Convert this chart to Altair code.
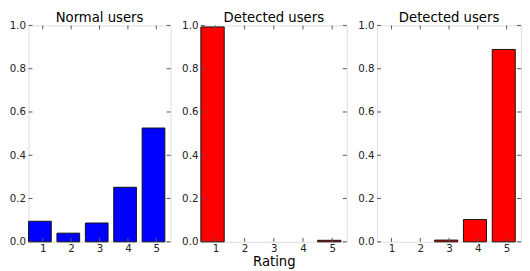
import altair as alt
import pandas as pd

ratings = [1, 2, 3, 4, 5]
normal_users = [0.095, 0.040, 0.087, 0.252, 0.526]
detected_users_a = [0.993, 0.0, 0.0, 0.0, 0.007]
detected_users_b = [0.0, 0.0, 0.008, 0.103, 0.889]
panel_titles = ["Normal users", "Detected users", "Detected users"]
panel_colors = ["#0000ff", "#ff0000", "#ff0000"]
y_ticks = [0.0, 0.2, 0.4, 0.6, 0.8, 1.0]
x_label = "Rating"

FONT = "DejaVu Sans"
H = 221


def panel(values, title, color, width, show_xtitle):
    df = pd.DataFrame({"rating": ratings, "share": values})
    xs = alt.Scale(domain=[0.5, 5.5], nice=False, zero=False)
    ys = alt.Scale(domain=[0, 1], nice=False)
    xaxis_kw = dict(values=ratings, format="d", grid=False, domain=False, ticks=False,
                    tickSize=0, labelPadding=2, labelFontSize=10.5, labelColor="#222",
                    labelFont=FONT, titleFont=FONT, titleFontSize=13.5,
                    titleFontWeight="normal", titlePadding=1, titleColor="#000")
    if show_xtitle:
        xaxis = alt.Axis(title=x_label, **xaxis_kw)
    else:
        xaxis = alt.Axis(title=None, **xaxis_kw)
    yaxis = alt.Axis(values=y_ticks, format=".1f", grid=False, domain=False,
                     ticks=False, tickSize=0, labelPadding=3, labelFontSize=10.5,
                     labelColor="#222", labelFont=FONT, title=None)
    bars = alt.Chart(df).transform_filter("datum.share > 0").transform_calculate(
        x0="datum.rating - 0.5", x1="datum.rating + 0.3"
    ).mark_bar(color=color, stroke="#111", strokeWidth=1, opacity=1).encode(
        x=alt.X("x0:Q", scale=xs, axis=xaxis),
        x2="x1:Q",
        y=alt.Y("share:Q", scale=ys, axis=yaxis),
        y2=alt.datum(0),
    )
    ydf = pd.DataFrame({"share": y_ticks})
    xdf = pd.DataFrame({"x0": ratings})
    yl = alt.Chart(ydf).mark_rule(color="#555", strokeWidth=1).encode(
        y=alt.Y("share:Q", scale=ys, axis=yaxis), x=alt.value(0), x2=alt.value(4))
    yr = alt.Chart(ydf).mark_rule(color="#555", strokeWidth=1).encode(
        y=alt.Y("share:Q", scale=ys, axis=yaxis), x=alt.value(width - 4), x2=alt.value(width))
    xb = alt.Chart(xdf).mark_rule(color="#555", strokeWidth=1).encode(
        x=alt.X("x0:Q", scale=xs, axis=xaxis), y=alt.value(H - 4), y2=alt.value(H))
    xt = alt.Chart(xdf).mark_rule(color="#555", strokeWidth=1).encode(
        x=alt.X("x0:Q", scale=xs, axis=xaxis), y=alt.value(0), y2=alt.value(4))
    return alt.layer(bars, yl, yr, xb, xt).properties(
        width=width, height=H,
        title=alt.TitleParams(title, fontSize=13.5, fontWeight="normal", font=FONT,
                              offset=-4, color="#000"))


chart = alt.hconcat(
    panel(normal_users, panel_titles[0], panel_colors[0], 145, False),
    panel(detected_users_a, panel_titles[1], panel_colors[1], 149, True),
    panel(detected_users_b, panel_titles[2], panel_colors[2], 147, False),
    spacing=9,
).configure_view(stroke="#444", strokeWidth=1).configure(
    padding=0, background="white")

chart.save("out.html", embed_options={"renderer": "svg", "actions": False})
